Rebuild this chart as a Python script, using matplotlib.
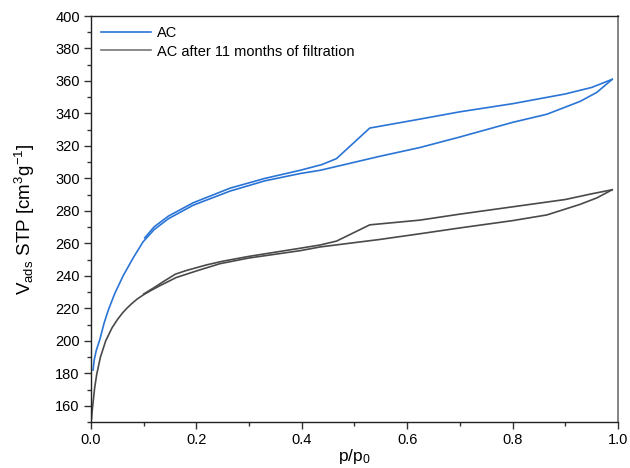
import matplotlib
matplotlib.use("Agg")
import matplotlib.pyplot as plt
from matplotlib.ticker import MultipleLocator

plt.rcParams['font.family'] = ['Liberation Sans', 'DejaVu Sans']
plt.rcParams['mathtext.fontset'] = 'custom'
plt.rcParams['mathtext.rm'] = 'Liberation Sans'
plt.rcParams['mathtext.it'] = 'Liberation Sans'

# N2 isotherm of fresh activated carbon (adsorption + desorption branch)
ac_ads_p = [0.004, 0.006, 0.01, 0.017, 0.025, 0.033, 0.045, 0.061, 0.08, 0.099, 0.12,
            0.147, 0.194, 0.264, 0.33, 0.397, 0.435, 0.548, 0.624, 0.7, 0.8, 0.865,
            0.928, 0.96, 0.989]
ac_ads_v = [182, 188, 194, 201, 211, 219, 229, 240, 251, 261, 268.5,
            275.2, 283.5, 292.2, 298.5, 303, 305, 313.6, 319, 325.5, 334.5, 339.5,
            347.4, 353, 361]
ac_des_p = [0.989, 0.95, 0.9, 0.8, 0.7, 0.624, 0.529, 0.466, 0.438, 0.397, 0.33,
            0.264, 0.194, 0.147, 0.12, 0.102]
ac_des_v = [361, 356, 352, 346, 341, 336.5, 331, 312.2, 308.5, 305, 300,
            294, 285, 276.8, 270.2, 263.4]

# same carbon after 11 months of filtration
old_ads_p = [0.001, 0.002, 0.004, 0.007, 0.011, 0.018, 0.028, 0.04, 0.05, 0.06, 0.068,
             0.077, 0.088, 0.1, 0.115, 0.13, 0.162, 0.2, 0.245, 0.3, 0.397, 0.435,
             0.548, 0.624, 0.7, 0.8, 0.865, 0.928, 0.96, 0.989]
old_ads_v = [152, 156, 162, 171, 179.5, 190, 200, 208, 213, 217.2, 220,
             222.8, 225.8, 228.4, 231.2, 233.8, 239, 243, 247.5, 251, 255.5, 257.8,
             262.4, 265.9, 269.5, 274, 277.5, 284, 288, 293]
old_des_p = [0.989, 0.95, 0.9, 0.8, 0.7, 0.624, 0.529, 0.466, 0.435, 0.397, 0.3,
             0.25, 0.22, 0.2, 0.18, 0.16, 0.14, 0.12, 0.1]
old_des_v = [293, 290.5, 287, 282.5, 278, 274.3, 271.4, 261.4, 259, 257, 252,
             249, 246.8, 245, 243.2, 241, 237, 232.8, 228.8]

blue = '#2a74d6'
grey = '#4a4a4a'

fig = plt.figure(figsize=(6.3, 4.68), dpi=100)
ax = fig.add_axes([0.1444, 0.0983, 0.8365, 0.8675])

ax.plot(ac_ads_p, ac_ads_v, color=blue, lw=1.2, label='AC')
ax.plot(ac_des_p, ac_des_v, color=blue, lw=1.2)
ax.plot(old_ads_p, old_ads_v, color=grey, lw=1.2, label='AC after 11 months of filtration')
ax.plot(old_des_p, old_des_v, color=grey, lw=1.2)

ax.set_xlim(0, 1.0)
ax.set_ylim(150, 400)
ax.xaxis.set_major_locator(MultipleLocator(0.2))
ax.xaxis.set_minor_locator(MultipleLocator(0.1))
ax.yaxis.set_minor_locator(MultipleLocator(10))
ax.set_yticks(range(160, 401, 20))
ax.tick_params(which='major', direction='out', length=5, width=1, labelsize=10.5,
               color='#333333', pad=3)
ax.tick_params(which='minor', direction='out', length=3, width=1, color='#333333')
ax.xaxis.set_major_formatter(plt.FuncFormatter(lambda v, _: f'{v:.1f}'))

for side in ['left', 'bottom', 'top']:
    ax.spines[side].set_color('#222222')
    ax.spines[side].set_linewidth(1.0)
ax.spines['right'].set_color('#7a7a7a')
ax.spines['right'].set_linewidth(1.3)

ax.set_xlabel(r'p/p$_0$', fontsize=12.5, labelpad=0)
ax.set_ylabel(r'V$_{\mathrm{ads}}$ STP [cm$^3$g$^{-1}$]', fontsize=13.5, labelpad=13)

leg = ax.legend(loc='upper left', frameon=False, fontsize=10.5, handlelength=3.4,
                handletextpad=0.4, borderaxespad=0.3, labelspacing=0.3)
leg.legend_handles[1].set_color('#777777')

fig.savefig('out.png', dpi=100)
